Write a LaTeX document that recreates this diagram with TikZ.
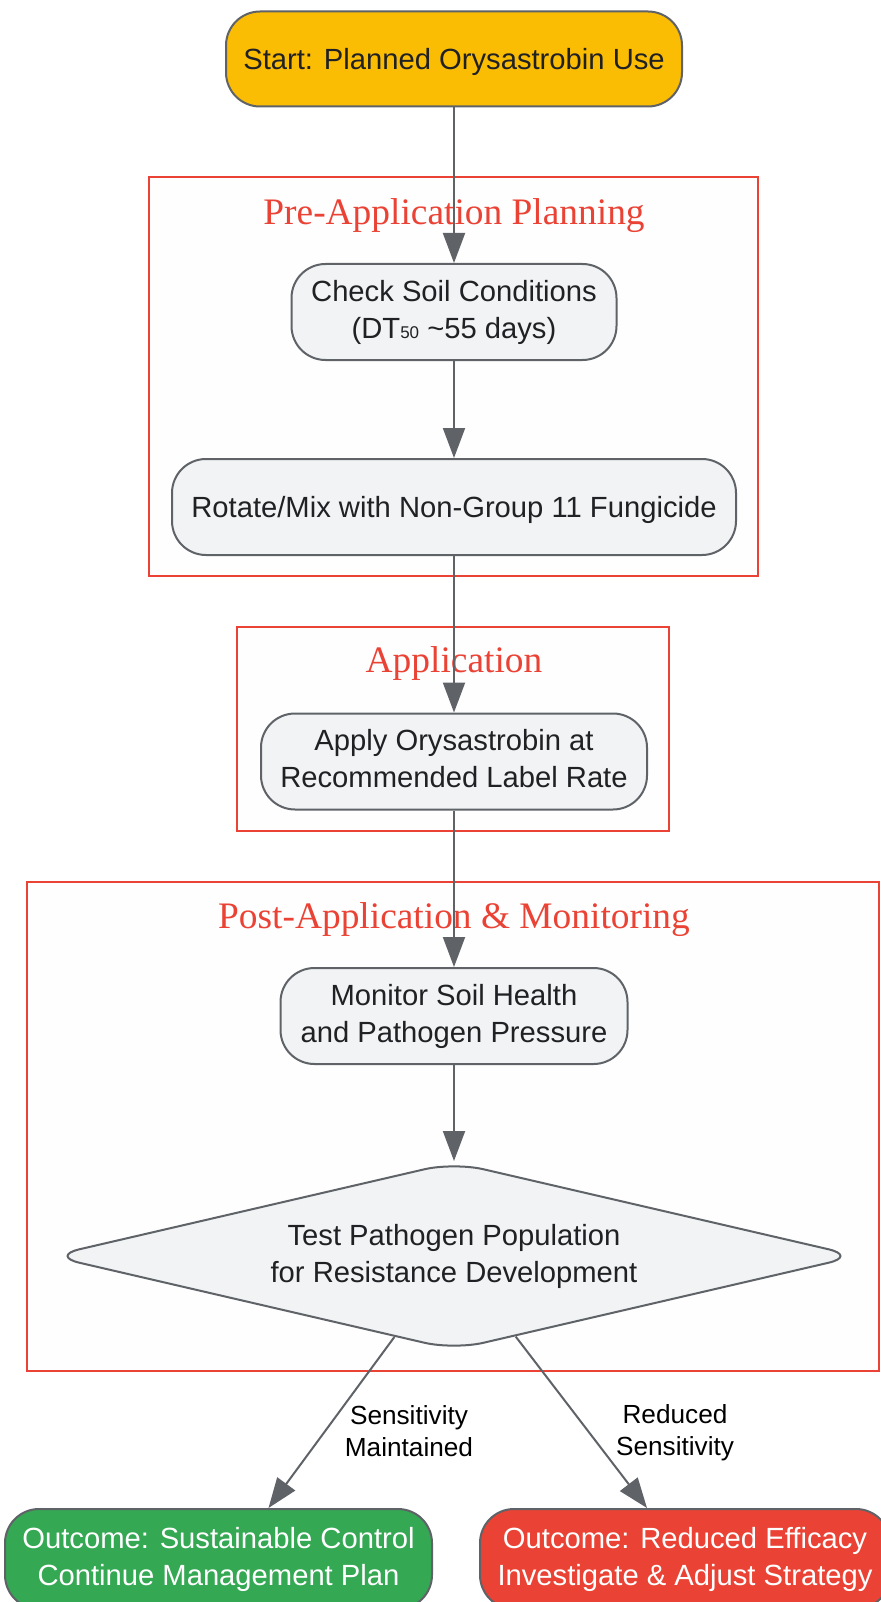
\documentclass[tikz,border=0pt]{standalone}
\usepackage{fontspec}
\setmainfont{Liberation Sans}
\newfontfamily\titlefont{Liberation Serif}
\usetikzlibrary{shapes.geometric,arrows.meta}
\definecolor{edgegray}{HTML}{5F6368}
\definecolor{nodefill}{HTML}{F1F3F4}
\definecolor{textdark}{HTML}{202124}
\definecolor{clusterred}{HTML}{EA4335}
\definecolor{clusterfill}{HTML}{FEFEFE}
\definecolor{startfill}{HTML}{FBBC04}
\definecolor{goodfill}{HTML}{34A853}
\definecolor{badfill}{HTML}{EA4335}
\tikzset{
  boxtext/.style={align=center, font=\fontsize{29.2}{37}\selectfont, inner sep=0pt,
    execute at begin node={\rule{0pt}{27pt}},
    execute at end node={\rule[-6pt]{0pt}{6pt}}},
  proc/.style={boxtext, draw=edgegray, line width=2pt, fill=nodefill, rounded corners=34pt,
    text=textdark, minimum height=96pt},
  cluster/.style={draw=clusterred, line width=2.5pt, fill=clusterfill, inner sep=0pt},
  clustertitle/.style={text=clusterred, font=\titlefont\fontsize{37.4}{44}\selectfont, inner sep=0pt},
  arrow/.style={draw=edgegray, line width=2pt, -{Triangle[length=30pt,width=22pt]}},
  elabel/.style={align=center, text=black, font=\fontsize{26.2}{32}\selectfont, inner sep=0pt},
  decision/.style={boxtext, shape=diamond, draw=edgegray, line width=2pt, fill=nodefill,
    rounded corners=30pt, aspect=4.4, minimum width=808pt, minimum height=188pt,
    text=textdark}
}
\begin{document}
\begin{tikzpicture}[x=1pt,y=-1pt]
\useasboundingbox (0,0) rectangle (880,1602);
\fill[white] (0,0) rectangle (880,1602);

% clusters
\node[cluster, minimum width=609pt, minimum height=399pt] (preC) at (453.5,376.5) {};
\node[clustertitle] (preT) at (454,215.5) {Pre-Application Planning};
\node[cluster, minimum width=432pt, minimum height=204pt] (appC) at (453,729) {};
\node[clustertitle] (appT) at (454,664) {Application};
\node[cluster, minimum width=852pt, minimum height=489pt] (postC) at (453,1126.5) {};
\node[clustertitle] (postT) at (454,919.5) {Post-Application \& Monitoring};

% nodes
\node[proc, fill=startfill, minimum width=456pt, minimum height=95pt] (start) at (454,59) {Start: Planned Orysastrobin Use};
\node[proc, minimum width=325pt] (check) at (454,312) {Check Soil Conditions\\(DT{\fontsize{17}{17}\selectfont 50} \char`\~55 days)};
\node[proc, minimum width=564pt] (rotate) at (454,507) {Rotate/Mix with Non-Group 11 Fungicide};
\node[proc, minimum width=386pt] (apply) at (454,761.5) {Apply Orysastrobin at\\Recommended Label Rate};
\node[proc, minimum width=347pt] (monitor) at (454,1016) {Monitor Soil Health\\and Pathogen Pressure};
\node[decision] (test) at (454,1256) {Test Pathogen Population\\for Resistance Development};
\node[proc, fill=goodfill, text=white, minimum width=427pt, minimum height=100pt] (outA) at (218.5,1559) {Outcome: Sustainable Control\\Continue Management Plan};
\node[proc, fill=badfill, text=white, minimum width=410pt, minimum height=100pt] (outB) at (685,1559) {Outcome: Reduced Efficacy\\Investigate \& Adjust Strategy};

% edge labels
\node[elabel] (lblA) at (409,1431) {Sensitivity\\Maintained};
\node[elabel] (lblB) at (675,1433) {Reduced\\Sensitivity};

% edges
\draw[arrow] (start) -- (check);
\draw[arrow] (check) -- (rotate);
\draw[arrow] (rotate) -- (apply);
\draw[arrow] (apply) -- (monitor);
\draw[arrow] (monitor) -- (test);
\draw[arrow] (test) -- ([xshift=50pt]outA.north);
\draw[arrow] (test) -- ([xshift=-38pt]outB.north);
\end{tikzpicture}
\end{document}
